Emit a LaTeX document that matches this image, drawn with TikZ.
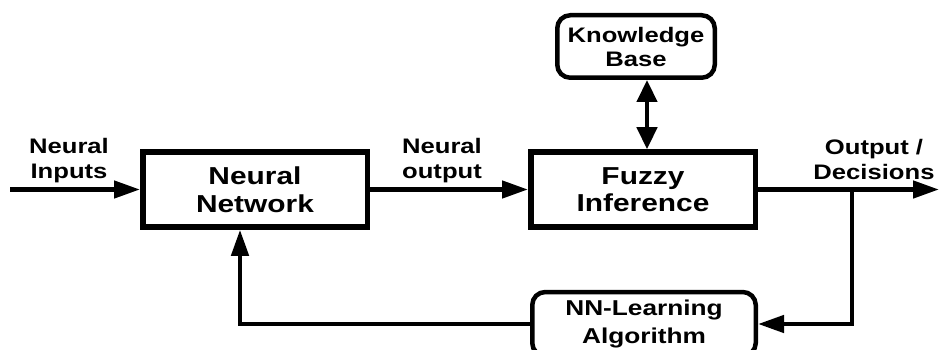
\documentclass[tikz,border=0pt]{standalone}
\usepackage{fontspec}
\setmainfont{Liberation Sans}[FakeStretch=1.22]
\usetikzlibrary{arrows.meta}
\begin{document}
\begin{tikzpicture}[x=1pt,y=-1pt,
  block/.style={draw,line width=5.5pt,minimum width=224.5pt,minimum height=75pt,
    align=center,inner sep=0pt,font=\bfseries\fontsize{24.5}{27.5}\selectfont},
  rblock/.style={draw,line width=4.5pt,rounded corners=13pt,align=center,inner sep=0pt,
    font=\bfseries\fontsize{21}{24}\selectfont},
  lbl/.style={align=center,inner sep=0pt,font=\bfseries\fontsize{21}{25}\selectfont},
  conn/.style={line width=4.5pt,-{Triangle[length=26pt,width=17pt]}},
  dconn/.style={line width=4.5pt,{Triangle[length=22pt,width=20pt]}-{Triangle[length=22pt,width=20pt]}}]
\useasboundingbox (0,0) rectangle (939,350);

% blocks
\node[block] (nn) at (255,189.5) {Neural\\Network};
\node[block] (fz) at (643,189.5) {Fuzzy\\Inference};
\node[rblock,minimum width=157.5pt,minimum height=62.5pt] (kb) at (636,46.5) {Knowledge\\Base};
\node[rblock,minimum width=223.5pt,minimum height=64pt,
      font=\bfseries\fontsize{21.5}{28}\selectfont] (nnl) at (644,324) {NN-Learning\\Algorithm};

% signal labels
\node[lbl] (linp) at (69,161) {Neural\\Inputs};
\node[lbl] (lout) at (442,161) {Neural\\output};
\node[lbl] (ldec) at (874,159.5) {Output /\\Decisions};

% free ends and bends
\coordinate (in) at (10,189.5);
\coordinate (out) at (939,189.5);
\coordinate (br) at (852,189.5);
\coordinate (ak) at (647,0);
\coordinate (fb) at (240,0);

% connectors
\draw[conn] (in) -- (nn.west);
\draw[conn] (nn.east) -- (fz.west);
\draw[conn] (fz.east) -- (out);
\draw[dconn] (kb.south -| ak) -- (fz.north -| ak);
\draw[conn,rounded corners=0pt] (br) |- (nnl.east);
\draw[conn] (nnl.west) -| (fb |- nn.south);
\end{tikzpicture}
\end{document}
